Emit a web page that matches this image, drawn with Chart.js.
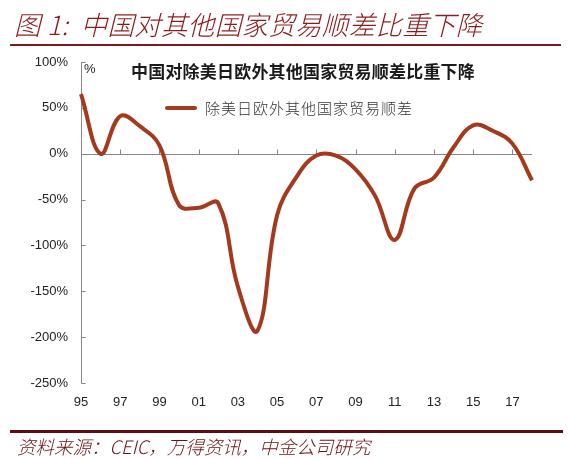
<!DOCTYPE html>
<html>
<head>
<meta charset="utf-8">
<script src="https://cdn.jsdelivr.net/npm/chart.js@4.4.0/dist/chart.umd.min.js"></script>
<style>
  html, body { margin: 0; padding: 0; background: #fff; }
  #wrap { position: relative; width: 569px; height: 459px; overflow: hidden; background: #fff; }
  #c { position: absolute; left: 0; top: 0; }
  .t { position: absolute; white-space: nowrap; line-height: 1; }
  #figTitle { left: 14px; top: 11px; font-family: "Noto Sans CJK SC", sans-serif; font-style: italic; font-weight: 300; font-size: 26.5px; letter-spacing: 0.3px; color: #8B1A1A; }
  #topRule { position: absolute; left: 10px; top: 44px; width: 551px; height: 2px; background: #7A1C1C; }
  #botRule { position: absolute; left: 10px; top: 430px; width: 553px; height: 3px; background: #5A0E12; }
  #source { left: 17px; top: 437px; font-family: "Noto Sans CJK SC", sans-serif; font-style: italic; font-weight: 300; font-size: 18.5px; color: #6A1212; }
  #pct { left: 84px; top: 62px; font-family: "Liberation Sans", Arial, sans-serif; font-size: 13px; color: #222; }
  #innerTitle { left: 131px; top: 62px; font-family: "Noto Sans CJK SC", sans-serif; font-weight: 700; font-size: 17px; letter-spacing: 0.2px; color: #1a1a1a; }
  #legLine { position: absolute; left: 165px; top: 106px; width: 32px; height: 4px; border-radius: 2px; background: #A33A1E; }
  #legText { left: 205px; top: 100px; font-family: "Noto Sans CJK SC", sans-serif; font-weight: 300; font-size: 15px; letter-spacing: 1px; color: #333; }
</style>
</head>
<body>
<div id="wrap">
  <canvas id="c" width="569" height="459"></canvas>
  <div class="t" id="figTitle">图 1:&nbsp; 中国对其他国家贸易顺差比重下降</div>
  <div id="topRule"></div>
  <div class="t" id="pct">%</div>
  <div class="t" id="innerTitle">中国对除美日欧外其他国家贸易顺差比重下降</div>
  <div id="legLine"></div>
  <div class="t" id="legText">除美日欧外其他国家贸易顺差</div>
  <div id="botRule"></div>
  <div class="t" id="source">资料来源：CEIC，万得资讯，中金公司研究</div>
</div>
<script>
// ---- data ----
const years = ['95','96','97','98','99','00','01','02','03','04','05','06','07','08','09','10','11','12','13','14','15','16','17','18'];
const seriesName = '除美日欧外其他国家贸易顺差';
const surplusShare = [65, 0, 41, 30, 9, -56, -59, -54, -145, -193, -67, -25, -2, -2, -17, -46, -94, -38, -26, 7, 31, 25, 11, -29];
const yMin = -250, yMax = 100, yStep = 50;

const lineColor = '#A33A1E';
const axisColor = '#868686';

const axesPlugin = {
  id: 'customAxes',
  beforeDatasetsDraw(chart) {
    const { ctx, chartArea, scales } = chart;
    const x = scales.x, y = scales.y;
    ctx.save();
    ctx.strokeStyle = axisColor;
    ctx.lineWidth = 1;
    ctx.beginPath();
    const ax = Math.round(chartArea.left) + 0.5;
    ctx.moveTo(ax, Math.round(y.getPixelForValue(yMax)));
    ctx.lineTo(ax, Math.round(y.getPixelForValue(yMin)) + 0.5);
    for (let v = yMin; v <= yMax; v += yStep) {
      const py = Math.round(y.getPixelForValue(v)) + 0.5;
      ctx.moveTo(ax, py);
      ctx.lineTo(ax + 4, py);
    }
    const zy = Math.round(y.getPixelForValue(0)) + 0.5;
    ctx.moveTo(ax, zy);
    ctx.lineTo(Math.round(chartArea.right), zy);
    for (let i = 2; i < years.length; i += 2) {
      const px = Math.round(x.getPixelForValue(i)) + 0.5;
      ctx.moveTo(px, zy);
      ctx.lineTo(px, zy - 5);
    }
    ctx.stroke();
    ctx.restore();
  }
};

new Chart(document.getElementById('c'), {
  type: 'line',
  data: {
    labels: years,
    datasets: [{
      label: seriesName,
      data: surplusShare,
      borderColor: lineColor,
      borderWidth: 4,
      pointRadius: 0,
      tension: 0.4,
      fill: false,
      clip: false,
      borderCapStyle: 'butt'
    }]
  },
  options: {
    responsive: false,
    animation: false,
    layout: { padding: { left: 0, right: 37, top: 62, bottom: 0 } },
    plugins: { legend: { display: false }, title: { display: false }, tooltip: { enabled: false } },
    scales: {
      x: {
        type: 'category',
        offset: false,
        grid: { display: false, drawTicks: false },
        border: { display: false },
        afterFit(s) { s.height = 76; },
        ticks: {
          autoSkip: false, maxRotation: 0, padding: 12,
          color: '#222',
          font: { family: '"Liberation Sans", Arial, sans-serif', size: 13 },
          callback(v, i) { return i % 2 === 0 ? years[i] : ''; }
        }
      },
      y: {
        min: yMin, max: yMax,
        grid: { display: false, drawTicks: false },
        border: { display: false },
        afterFit(s) { s.width = 81; },
        ticks: {
          stepSize: yStep, padding: 13,
          color: '#222',
          font: { family: '"Liberation Sans", Arial, sans-serif', size: 13 },
          callback(v) { return v + '%'; }
        }
      }
    }
  },
  plugins: [axesPlugin]
});
</script>
</body>
</html>
